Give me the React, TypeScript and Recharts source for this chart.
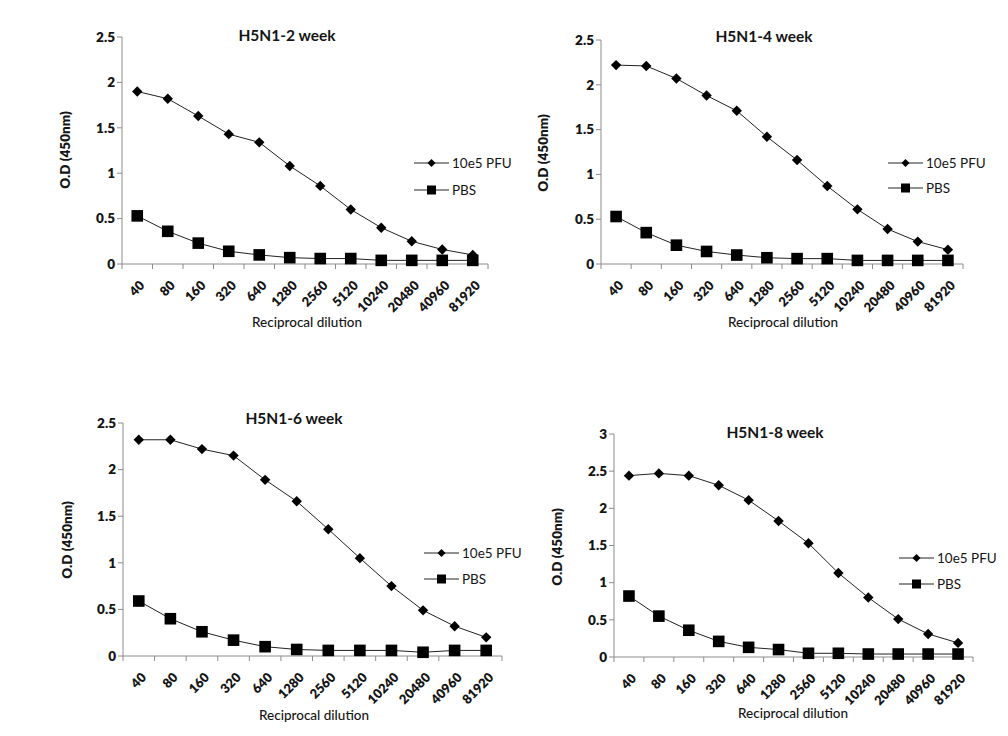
import React from "react";
import { LineChart, Line, XAxis, YAxis } from "recharts";

const DILUTIONS = ["40", "80", "160", "320", "640", "1280", "2560", "5120", "10240", "20480", "40960", "81920"];
const SERIES_NAMES = ["10e5 PFU", "PBS"];

const PFU_2WK = [1.9, 1.82, 1.63, 1.43, 1.34, 1.08, 0.86, 0.6, 0.4, 0.25, 0.16, 0.1];
const PBS_2WK = [0.53, 0.36, 0.23, 0.14, 0.1, 0.07, 0.06, 0.06, 0.04, 0.04, 0.04, 0.04];
const PFU_4WK = [2.22, 2.21, 2.07, 1.88, 1.71, 1.42, 1.16, 0.87, 0.61, 0.39, 0.25, 0.16];
const PBS_4WK = [0.53, 0.35, 0.21, 0.14, 0.1, 0.07, 0.06, 0.06, 0.04, 0.04, 0.04, 0.04];
const PFU_6WK = [2.32, 2.32, 2.22, 2.15, 1.89, 1.66, 1.36, 1.05, 0.75, 0.49, 0.32, 0.2];
const PBS_6WK = [0.59, 0.4, 0.26, 0.17, 0.1, 0.07, 0.06, 0.06, 0.06, 0.04, 0.06, 0.06];
const PFU_8WK = [2.44, 2.47, 2.44, 2.31, 2.11, 1.83, 1.53, 1.13, 0.8, 0.51, 0.31, 0.19];
const PBS_8WK = [0.82, 0.55, 0.36, 0.21, 0.13, 0.1, 0.05, 0.05, 0.04, 0.04, 0.04, 0.04];

const TICKS_25 = [0, 0.5, 1, 1.5, 2, 2.5];
const TICKS_3 = [0, 0.5, 1, 1.5, 2, 2.5, 3];

const FONT = "Lato, 'Open Sans', sans-serif";
const AXIS = "#8c8c8c";
const INK = "#151515";

// plot boxes are page coords of the axes: left, right, top, bottom
const PANELS = [
  { title: "H5N1-2 week", pfu: PFU_2WK, pbs: PBS_2WK, ticks: TICKS_25, plot: [122, 488, 37, 264],
    titleAt: [287, 35], yLab: [65, 150], xLab: [307, 322], legend: [414, 163, 190] },
  { title: "H5N1-4 week", pfu: PFU_4WK, pbs: PBS_4WK, ticks: TICKS_25, plot: [601, 963, 40, 264],
    titleAt: [764, 36], yLab: [543, 153], xLab: [783, 322], legend: [888, 163, 188] },
  { title: "H5N1-6 week", pfu: PFU_6WK, pbs: PBS_6WK, ticks: TICKS_25, plot: [123, 502, 423, 656],
    titleAt: [294, 418], yLab: [67, 540], xLab: [314, 715], legend: [424, 553, 579] },
  { title: "H5N1-8 week", pfu: PFU_8WK, pbs: PBS_8WK, ticks: TICKS_3, plot: [614, 973, 434, 657],
    titleAt: [775, 432], yLab: [557, 547], xLab: [793, 713], legend: [899, 558, 584] },
];

const Diamond = ({ cx, cy, s = 5.2 }: any) => (
  <path d={`M${cx},${cy - s}L${cx + s},${cy}L${cx},${cy + s}L${cx - s},${cy}Z`} fill="#000" />
);
const Square = ({ cx, cy, s = 5.8 }: any) => (
  <rect x={cx - s} y={cy - s} width={s * 2} height={s * 2} fill="#000" />
);

const DilutionTick = ({ x, y, payload }: any) => {
  const ax = x + 5;
  const ay = y + 10;
  return (
    <text x={ax} y={ay} transform={`rotate(-45, ${ax}, ${ay})`} textAnchor="end" dy="0.35em"
      fontFamily={FONT} fontSize={13} fontWeight={800} fill={INK}>
      {DILUTIONS[payload.value]}
    </text>
  );
};

function Panel({ p }: { p: (typeof PANELS)[number] }) {
  const [L, R, T, B] = p.plot;
  const yw = 40;
  const width = R - L + 62 + 40;
  const height = B - T + 20 + 80;
  const data = DILUTIONS.map((d, i) => ({ i, pfu: p.pfu[i], pbs: p.pbs[i] }));
  const boundaries = DILUTIONS.map((_, i) => i - 0.5).concat([DILUTIONS.length - 0.5]);
  const centers = DILUTIONS.map((_, i) => i);
  const [lx, r1, r2] = p.legend;

  return (
    <>
      <div style={{ position: "absolute", left: L - 62, top: T - 20 }}>
        <LineChart width={width} height={height} data={data} margin={{ top: 20, right: 40, left: 62 - yw, bottom: 29 }}>
          <XAxis xAxisId="b" type="number" dataKey="i" domain={[-0.5, 11.5]} ticks={boundaries} height={1}
            stroke={AXIS} tickSize={5} tick={() => <g />} allowDataOverflow />
          <XAxis xAxisId="c" type="number" dataKey="i" domain={[-0.5, 11.5]} ticks={centers} height={50}
            axisLine={false} tickLine={false} tick={<DilutionTick />} interval={0} allowDataOverflow />
          <YAxis type="number" domain={[0, p.ticks[p.ticks.length - 1]]} ticks={p.ticks} width={yw} interval={0}
            stroke={AXIS} tickSize={5} tick={{ fill: INK, fontFamily: FONT, fontSize: 13.5, fontWeight: 800 }} />
          <Line xAxisId="b" dataKey="pfu" stroke="#222" strokeWidth={1} isAnimationActive={false}
            dot={(d: any) => <Diamond key={`d${d.index}`} cx={d.cx} cy={d.cy} />} />
          <Line xAxisId="b" dataKey="pbs" stroke="#222" strokeWidth={1} isAnimationActive={false}
            dot={(d: any) => <Square key={`s${d.index}`} cx={d.cx} cy={d.cy} />} />
        </LineChart>
      </div>
      <div style={{ position: "absolute", left: p.titleAt[0], top: p.titleAt[1], transform: "translate(-50%, -50%)",
        fontFamily: FONT, fontSize: 15.5, fontWeight: 700, color: INK, whiteSpace: "nowrap" }}>{p.title}</div>
      <div style={{ position: "absolute", left: p.yLab[0], top: p.yLab[1], transform: "translate(-50%, -50%) rotate(-90deg)",
        fontFamily: FONT, fontSize: 13.5, fontWeight: 800, color: INK, whiteSpace: "nowrap" }}>O.D (450nm)</div>
      <div style={{ position: "absolute", left: p.xLab[0], top: p.xLab[1], transform: "translate(-50%, -50%)",
        fontFamily: FONT, fontSize: 13.5, fontWeight: 500, color: INK, whiteSpace: "nowrap" }}>Reciprocal dilution</div>
      {SERIES_NAMES.map((name, k) => {
        const y = k === 0 ? r1 : r2;
        return (
          <div key={name} style={{ position: "absolute", left: lx, top: y - 9, height: 18, display: "flex", alignItems: "center" }}>
            <svg width={36} height={18} style={{ display: "block" }}>
              <line x1={0} y1={9} x2={35} y2={9} stroke="#222" strokeWidth={1} />
              {k === 0 ? <Diamond cx={17.5} cy={9} s={4} /> : <Square cx={17.5} cy={9} s={4.5} />}
            </svg>
            <span style={{ marginLeft: 2, fontFamily: FONT, fontSize: 13.5, color: INK, whiteSpace: "nowrap" }}>{name}</span>
          </div>
        );
      })}
    </>
  );
}

export default function App() {
  return (
    <div style={{ position: "absolute", left: 0, top: 0, width: 1008, height: 736, background: "#fff", overflow: "hidden" }}>
      {PANELS.map((p) => <Panel key={p.title} p={p} />)}
    </div>
  );
}
